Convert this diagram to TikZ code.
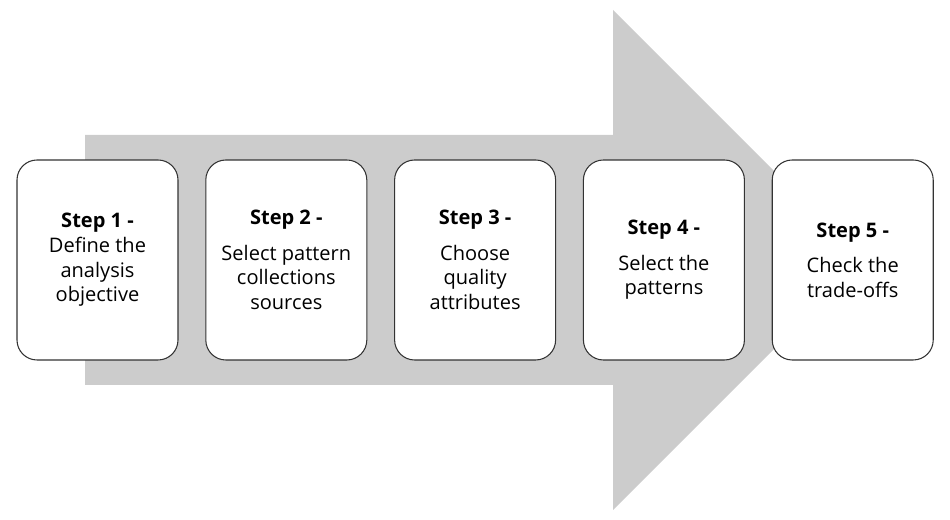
\documentclass[tikz,border=0pt]{standalone}
\usepackage{fontspec}
\setmainfont{Open Sans}
\usetikzlibrary{positioning}
\tikzset{
    stepbox/.style={draw=black!80, fill=white, rounded corners=0.4cm, line width=0.6pt,
        minimum width=3.22cm, minimum height=4cm, align=center,
        font=\fontsize{11.4}{14}\selectfont},
    flowarrow/.style={fill=black!20}
}

\begin{document}
\begin{tikzpicture}
        \useasboundingbox (0,0) rectangle (19,10.4);
        \fill[flowarrow] (1.7,2.7) -- (12.26,2.7) -- (12.26,0.2) -- (17.26,5.2)
            -- (12.26,10.2) -- (12.26,7.7) -- (1.7,7.7) -- cycle;
        \node[stepbox] (s1) at (1.95,5.2) {\textbf{Step 1 -}\\Define the\\analysis\\objective};
        \node[stepbox, right=0.535cm of s1] (s2) {\textbf{Step 2 -}\\[6pt]Select pattern\\collections\\sources};
        \node[stepbox, right=0.535cm of s2] (s3) {\textbf{Step 3 -}\\[6pt]Choose\\quality\\attributes};
        \node[stepbox, right=0.535cm of s3] (s4) {\textbf{Step 4 -}\\[6pt]Select the\\patterns};
        \node[stepbox, right=0.535cm of s4] (s5) {\textbf{Step 5 -}\\[6pt]Check the\\trade-offs};
    \end{tikzpicture}
\end{document}
